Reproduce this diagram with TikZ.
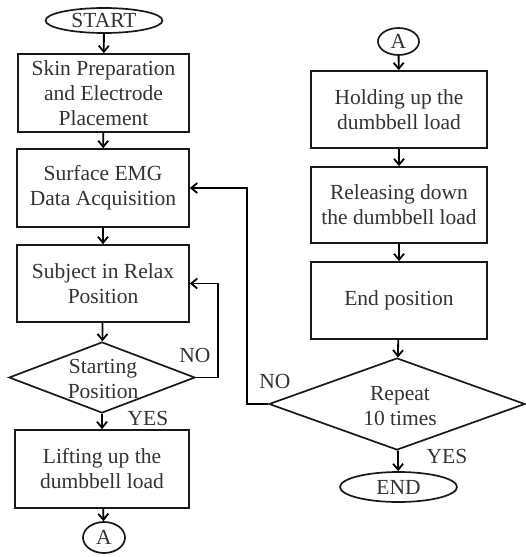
\documentclass[tikz,border=0pt]{standalone}
\usepackage{fontspec}
\setmainfont{Liberation Serif}
\usetikzlibrary{shapes.geometric,arrows.meta}
\begin{document}
\begin{tikzpicture}[x=1pt,y=-1pt,
  every node/.style={font=\fontsize{21.5}{25}\selectfont, text=black!80},
  box/.style={draw=black!90, line width=1.7pt, rectangle, align=center, inner sep=0pt},
  term/.style={draw=black!90, line width=1.7pt, ellipse, inner sep=0pt},
  dia/.style={draw=black!90, line width=1.7pt, diamond, inner sep=0pt},
  arr/.style={draw=black, line width=1.8pt, -{Straight Barb[length=6pt,width=10pt]}},
  lab/.style={inner sep=0pt, align=center}]
\useasboundingbox (0,0) rectangle (525,557);
% left column
\node[term, minimum width=117pt, minimum height=25pt] (start) at (104,20.5) {START};
\node[box, minimum width=171pt, minimum height=78pt] (b1) at (103.5,93) {Skin Preparation\\and Electrode\\Placement};
\node[box, minimum width=172pt, minimum height=78pt] (b2) at (103,188) {Surface EMG\\Data Acquisition};
\node[box, minimum width=172pt, minimum height=77pt] (b3) at (103,283.5) {Subject in Relax\\Position};
\node[dia, minimum width=186pt, minimum height=71pt] (d1) at (102,377.5) {};
\node[lab] (d1t) at (103,379) {Starting\\Position};
\node[box, minimum width=174pt, minimum height=78pt] (b4) at (102,469) {Lifting up the\\dumbbell load};
\node[term, minimum width=42pt, minimum height=31pt] (a1) at (104,537.5) {A};
% right column
\node[term, minimum width=41pt, minimum height=27pt] (a2) at (398.5,41.5) {A};
\node[box, minimum width=176pt, minimum height=77pt] (b5) at (399,109.5) {Holding up the\\dumbbell load};
\node[box, minimum width=176pt, minimum height=76pt] (b6) at (399,205) {Releasing down\\the dumbbell load};
\node[box, minimum width=176pt, minimum height=77pt] (b7) at (399,300.5) {End position};
\node[dia, minimum width=256pt, minimum height=92pt] (d2) at (397,404) {};
\node[lab] (d2t) at (400,406) {Repeat\\10 times};
\node[term, minimum width=117pt, minimum height=30pt] (end) at (398.5,487) {END};
% labels
\node[lab] (no1) at (195,355) {NO};
\node[lab] (yes1) at (148,418) {YES};
\node[lab] (no2) at (275,381) {NO};
\node[lab] (yes2) at (447,456) {YES};
% connectors
\draw[arr] (start) -- (b1);
\draw[arr] (b1) -- (b2);
\draw[arr] (b2) -- (b3);
\draw[arr] (b3) -- (d1);
\draw[arr] (d1) -- (b4);
\draw[arr] (b4) -- (a1);
\draw[arr] (a2) -- (b5);
\draw[arr] (b5) -- (b6);
\draw[arr] (b6) -- (b7);
\draw[arr] (b7) -- (d2);
\draw[arr] (d2) -- (end);
\draw[arr] (d1.east) -- ++(22,0) |- (b3.east);
\draw[arr] (d2.west) -- ++(-21,0) |- (b2.east);
\end{tikzpicture}
\end{document}
